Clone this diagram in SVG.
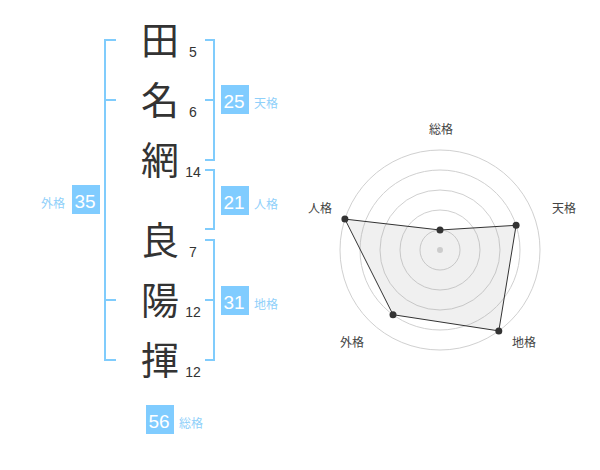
<svg xmlns="http://www.w3.org/2000/svg" width="600" height="470" viewBox="0 0 600 470">
<style>
.bk{fill:none;stroke:#80ccfc;stroke-width:2}
.box{fill:#80ccff}
.bn{font-family:"Liberation Sans",Arial,sans-serif;font-size:19px;fill:#fff;text-anchor:middle}
.lb{font-family:"Noto Sans CJK JP",sans-serif;font-size:12px;fill:#8fd0fa}
.ch{font-family:"Noto Sans CJK JP",sans-serif;font-size:38px;fill:#333;text-anchor:middle}
.st{font-family:"Liberation Sans",Arial,sans-serif;font-size:14px;fill:#333;text-anchor:middle}
.ring{fill:none;stroke:#d0d0d0;stroke-width:1}
.rl{font-family:"Noto Sans CJK JP",sans-serif;font-size:12px;fill:#444;text-anchor:middle}
.pt{fill:#333}
</style>
<rect width="600" height="470" fill="#fff"/>
<g id="connectors">
<path class="bk" d="M116,40 H105 V360 H116 M105,100 H116 M105,300 H116"/>
<path class="bk" d="M205,40 H214 V160 H205 M205,100 H214"/>
<path class="bk" d="M205,170 H214 V229 H205"/>
<path class="bk" d="M205,240 H214 V360 H205 M205,300 H214"/>
</g>
<g id="char-1"><text class="ch" x="160" y="54">田</text><text class="st" x="193" y="57">5</text></g>
<g id="char-2"><text class="ch" x="160" y="114">名</text><text class="st" x="193" y="117">6</text></g>
<g id="char-3"><text class="ch" x="160" y="174">網</text><text class="st" x="193" y="177">14</text></g>
<g id="char-4"><text class="ch" x="160" y="254">良</text><text class="st" x="193" y="257">7</text></g>
<g id="char-5"><text class="ch" x="160" y="314">陽</text><text class="st" x="193" y="317">12</text></g>
<g id="char-6"><text class="ch" x="160" y="374">揮</text><text class="st" x="193" y="377">12</text></g>
<g id="tenkaku"><rect class="box" x="221" y="85" width="28" height="29"/><text class="bn" x="234" y="108">25</text><text class="lb" x="254" y="108">天格</text></g>
<g id="jinkaku"><rect class="box" x="221" y="186" width="28" height="29"/><text class="bn" x="234" y="209">21</text><text class="lb" x="254" y="209">人格</text></g>
<g id="chikaku"><rect class="box" x="221" y="286" width="28" height="29"/><text class="bn" x="234" y="309">31</text><text class="lb" x="254" y="309">地格</text></g>
<g id="gaikaku"><rect class="box" x="72" y="185" width="28" height="29"/><text class="bn" x="85" y="208">35</text><text class="lb" x="41" y="208">外格</text></g>
<g id="soukaku"><rect class="box" x="146" y="405" width="28" height="29"/><text class="bn" x="159" y="428">56</text><text class="lb" x="179" y="428">総格</text></g>
<g id="radar">
<circle class="ring" cx="440" cy="250" r="20"/>
<circle class="ring" cx="440" cy="250" r="40"/>
<circle class="ring" cx="440" cy="250" r="60"/>
<circle class="ring" cx="440" cy="250" r="80"/>
<circle class="ring" cx="440" cy="250" r="100"/>
<polygon points="440,230 516.1,225.3 498.8,330.9 393,314.7 344.9,219.1" fill="#999" fill-opacity="0.15" stroke="#333" stroke-width="1"/>
<circle cx="440" cy="250" r="3" fill="#ccc"/>
<circle class="pt" cx="440" cy="230" r="3.5"/>
<circle class="pt" cx="516.1" cy="225.3" r="3.5"/>
<circle class="pt" cx="498.8" cy="330.9" r="3.5"/>
<circle class="pt" cx="393" cy="314.7" r="3.5"/>
<circle class="pt" cx="344.9" cy="219.1" r="3.5"/>
<text class="rl" x="441" y="134">総格</text>
<text class="rl" x="564" y="213">天格</text>
<text class="rl" x="524" y="347">地格</text>
<text class="rl" x="352" y="347">外格</text>
<text class="rl" x="320" y="213">人格</text>
</g>
</svg>
